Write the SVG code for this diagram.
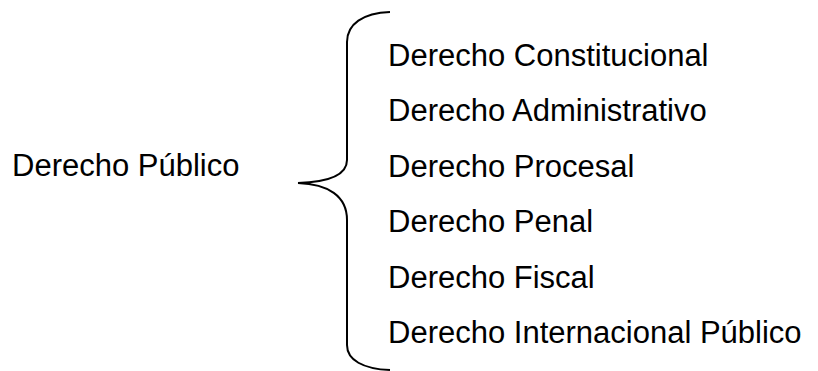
<svg xmlns="http://www.w3.org/2000/svg" width="818" height="371" viewBox="0 0 818 371">
<style>
text{font-family:"Liberation Sans",Arial,sans-serif;font-size:31px;fill:#000}
.brace{fill:none;stroke:#000;stroke-width:2}
</style>
<rect width="818" height="371" fill="#fff"/>
<g id="root"><text x="12" y="176">Derecho Público</text></g>
<g id="connectors">
<path class="brace" d="M390,12 C363,13 347,24 347,42 L347,160 C347,174 330,182 298,183 C328,184 347,196 347,220 L347,345 C347,360 363,369 390,370"/>
</g>
<g id="n1"><text x="388" y="66">Derecho Constitucional</text></g>
<g id="n2"><text x="388" y="121">Derecho Administrativo</text></g>
<g id="n3"><text x="388" y="177">Derecho Procesal</text></g>
<g id="n4"><text x="388" y="232">Derecho Penal</text></g>
<g id="n5"><text x="388" y="288">Derecho Fiscal</text></g>
<g id="n6"><text x="388" y="343">Derecho Internacional Público</text></g>
</svg>
